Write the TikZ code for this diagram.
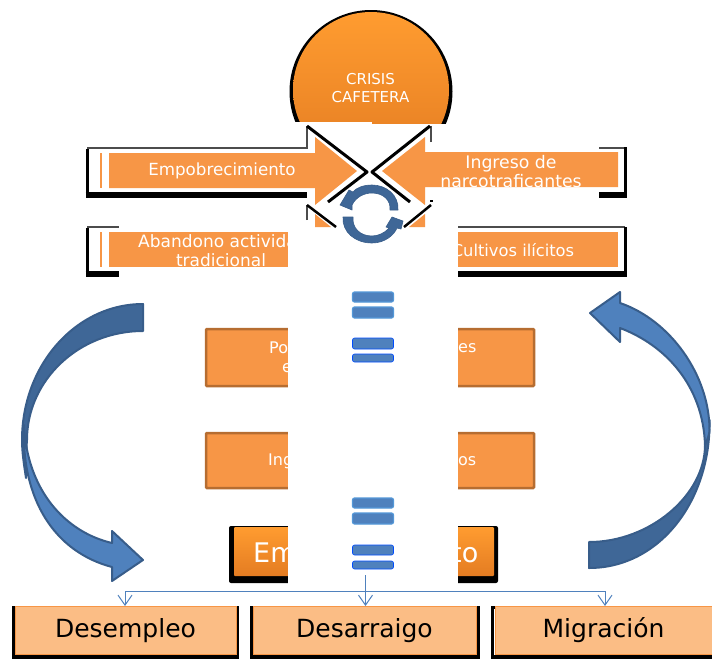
\documentclass[tikz,border=0pt]{standalone}
\usepackage{fontspec}
\setmainfont{DejaVu Sans}
\usetikzlibrary{arrows.meta,shadings}
\definecolor{org}{HTML}{F79646}
\definecolor{orgd}{HTML}{B66D31}
\definecolor{orgt}{HTML}{FF9C30}
\definecolor{orgb}{HTML}{E47C22}
\definecolor{peach}{HTML}{FBBD85}
\definecolor{blu}{HTML}{4F81BD}
\definecolor{blud}{HTML}{3F6797}
\definecolor{blue2}{HTML}{385D8A}
\tikzset{
  x=1pt,y=-1pt,
  sz/.style={font=\fontsize{#1}{20}\selectfont},
  wtext/.style={text=white,inner sep=0pt,align=center},
  midbox/.style={draw=orgd,line width=2.5pt,fill=org,rounded corners=1pt,inner sep=0pt},
  effect/.style={draw=org,line width=1pt,inner sep=0pt,text=black,font=\fontsize{25}{29}\selectfont,fill=peach},
  blackline/.style={black,line width=3pt},
  thinblack/.style={draw=black!70,line width=1.5pt},
  heavyline/.style={draw=black,line width=5.5pt},
  sideline/.style={draw=black,line width=3pt},
  bigarrow/.style={draw=blue2,line width=2pt,line join=round},
  cyc/.style={fill=blud,draw=blue2,line width=.6pt,line join=round},
  eqlight/.style={fill=blu,draw=cyan!60!blue!70,line width=1.2pt,rounded corners=2pt},
  eqdark/.style={fill=blu,draw=blue!70!cyan,line width=.6pt,rounded corners=2pt},
  conn/.style={draw=blu,line width=1pt,-{Straight Barb[length=10pt,width=14pt,line width=1pt]}},
  whiteout/.style={fill=white,draw=none}
}
\begin{document}
\begin{tikzpicture}
\useasboundingbox (0,0) rectangle (712,659);
% circle
\fill[black] (371,91.5) circle (81.5);
\shade[top color=orgt,bottom color=orgb] (371,90) circle (78);
\fill[whiteout] (285,124) rectangle (460,200);
\fill[whiteout] (285,121.5) rectangle (372,124);
\node[wtext,sz=15,align=center] (crisis) at (370.5,88) {CRISIS\\[-2pt]CAFETERA};
% row 1 left arrow
\draw[sideline] (87,149) -- (87,195);
\draw[thinblack] (87,148) -- (307,148) -- (307,126);
\draw[blackline,line join=round] (307,126) -- (367,172) -- (328,202);
\draw[heavyline] (85.5,195) -- (307,195);
\fill[org] (109,153) -- (315,153) -- (315,137) -- (357,171) -- (315,205) -- (315,188) -- (109,188) -- cycle;
\fill[org] (100,153) rectangle (101.5,188);
\fill[white] (290,148.5) rectangle (306,152.8);
\node[wtext,sz=16.7] (emp) at (222,171) {Empobrecimiento};
% row 1 right arrow
\draw[thinblack] (431,142) -- (431,126);
\draw[blackline,line join=round] (430,126) -- (372,172) -- (410,202);
\draw[thinblack] (599,148) -- (625,148);
\draw[sideline] (625,147) -- (625,197);
\draw[heavyline] (599,195) -- (626.5,195);
\fill[org] (618,152) -- (425,152) -- (425,137) -- (382,171) -- (425,205) -- (425,187) -- (618,187) -- cycle;
\node[wtext,sz=17.3,align=center] (ing) at (511,171.5) {Ingreso de\\[-1pt]narcotraficantes};
\fill[black] (430,199.5) rectangle (433,202);
% row 2 frames
\draw[sideline] (87,228) -- (87,272);
\draw[thinblack] (87,227) -- (119,227);
\draw[heavyline] (85.5,274) -- (119,274);
\fill[org] (109,232) rectangle (295,267);
\fill[org] (100,232) rectangle (101.5,267);
\node[wtext,sz=17,anchor=west] (aban) at (138,241) {Abandono activida};
\node[wtext,sz=17] (trad) at (221,260.5) {tradicional};
\draw[thinblack] (431,205) -- (431,227) -- (625,227);
\draw[sideline] (625,227) -- (625,276);
\draw[heavyline] (458,274) -- (626.5,274);
\fill[org] (450,232) rectangle (618,267);
\node[wtext,sz=16.3] (cult) at (513,250) {Cultivos ilícitos};
% middle boxes
\node[midbox,minimum width=328pt,minimum height=57pt] (bpo) at (370,357.5) {};
\node[midbox,minimum width=328pt,minimum height=55pt] (bin) at (370,460.5) {};
\fill[black,rounded corners=2pt] (229,526) rectangle (498,583);
\shade[top color=orgt,bottom color=orgb,rounded corners=1pt] (234,527) rectangle (494,576);
\node[wtext,sz=16,anchor=west] (t1) at (269,348) {Po};
\node[wtext,sz=16,anchor=west] (t1b) at (282,368) {e};
\node[wtext,sz=16,anchor=west] (t1c) at (458,348) {es};
\node[wtext,sz=16,anchor=west] (t2) at (268,461) {Ing};
\node[wtext,sz=16,anchor=west] (t2b) at (458,461) {os};
\node[wtext,sz=27,anchor=west] (t3) at (253,553) {Em};
\node[wtext,sz=27,anchor=west] (t3b) at (451,553) {to};
% white overlay that hides the middle of the figure
\fill[whiteout] (288,205) rectangle (458,606);
% second-row arrow heads
\draw[thinblack] (307,220) -- (307,205);
\draw[black,line width=2.5pt] (307,205) -- (336,227);
\draw[black,line width=2.5pt] (431,205) -- (404,227);
\fill[org] (315,214) -- (331,227) -- (315,227) -- cycle;
\fill[org] (425,214) -- (409,227) -- (425,227) -- cycle;
% cycle icon
\fill[cyc] (398,210) .. controls (399,195) and (386,185) .. (372,185) .. controls (363,185) and (356,188) .. (353,192)
  -- (349,190) -- (340,205) -- (352,210) -- (352,205) .. controls (356,197) and (364,193) .. (372,193)
  .. controls (383,193) and (391,200) .. (390,210) -- cycle;
\fill[cyc] (343,217) .. controls (342,232) and (355,243) .. (372,243) .. controls (385,243) and (394,235) .. (397,228)
  -- (401,229) -- (403,221) -- (392,217) -- (386,227) -- (389,228)
  .. controls (385,233) and (378,236) .. (372,236) .. controls (360,236) and (352,228) .. (353,217) -- cycle;
% equal signs
\foreach \a/\b in {292/302,307/318,498/508,513/524} \draw[eqlight] (352.5,\a) rectangle (393.5,\b);
\foreach \a/\b in {338/349,354/362,545/555,561/569} \draw[eqdark] (352.5,\a) rectangle (393.5,\b);
% big arrows
\draw[bigarrow,fill=blud] (143,304) .. controls (76,304) and (22,365) .. (22,440) .. controls (22,452) and (24,465) .. (26,478) .. controls (26,465) and (26,452) .. (27,440) .. controls (27,380) and (79,331) .. (143,331) -- cycle;
\draw[bigarrow,fill=blu] (112,543) .. controls (65,532) and (27,490) .. (24,425) .. controls (21,500) and (55,552) .. (112,567) -- (112,581) -- (143,560) -- (112,531) -- cycle;
\draw[bigarrow,fill=blud] (589,542) .. controls (650,542) and (705,495) .. (705,445) -- (709.5,420) .. controls (711,500) and (660,568) .. (589,568) -- cycle;
\draw[bigarrow,fill=blu] (620,328) .. controls (665,345) and (703,385) .. (705,445) .. controls (707,440) and (709.5,435) .. (709.5,430) .. controls (709.5,375) and (670,320) .. (620,303) -- (620,292) -- (590,313) -- (620,342) -- cycle;
% effect boxes
\draw[black,line width=3.5pt] (28,607.5) -- (13.5,607.5) -- (13.5,657.2) -- (237.5,657.2) -- (237.5,607.5) -- (224,607.5);
\node[effect,minimum width=221pt,minimum height=48pt] (dese) at (125.5,630.5) {Desempleo};
\draw[black,line width=3.5pt] (270,607.5) -- (251.5,607.5) -- (251.5,657.2) -- (478,657.2) -- (478,607.5) -- (460,607.5);
\node[effect,minimum width=223pt,minimum height=48pt] (desa) at (364.5,630.5) {Desarraigo};
\draw[black,line width=3.5pt] (513,607.5) -- (492.5,607.5) -- (492.5,657.2) -- (712,657.2);
\draw[black,line width=3.5pt] (695,607.5) -- (712,607.5);
\node[effect,minimum width=222pt,minimum height=48pt,anchor=west] (migr) at (495,630.5) {\hspace{-6pt}Migración};
% connectors
\coordinate (trunk) at (365.5,575);
\coordinate (bus) at (365.5,591);
\coordinate (dtop) at (125,606);
\coordinate (stop) at (365.5,606);
\coordinate (mtop) at (605,606);
\draw[conn] (trunk) -- (stop);
\draw[conn] (bus) -| (dtop);
\draw[conn] (bus) -| (mtop);
\end{tikzpicture}
\end{document}
